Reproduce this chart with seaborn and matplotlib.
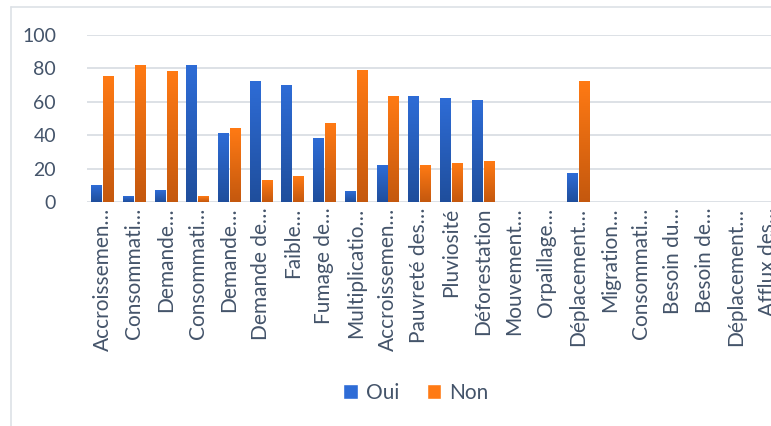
import numpy as np
import pandas as pd
import seaborn as sns
import matplotlib.pyplot as plt
from matplotlib.colors import LinearSegmentedColormap
from matplotlib.patches import Patch
from matplotlib.lines import Line2D

labels = ["Accroissemen…", "Consommati…", "Demande…", "Consommati…", "Demande…",
          "Demande de…", "Faible…", "Fumage de…", "Multiplicatio…", "Accroissemen…",
          "Pauvreté des…", "Pluviosité", "Déforestation", "Mouvement…", "Orpaillage…",
          "Déplacement…", "Migration…", "Consommati…", "Besoin du…", "Besoin de…",
          "Déplacement…", "Afflux des…"]
oui = [10, 3, 7, 82, 41, 72, 70, 38, 6, 22, 63, 62, 61, 0, 0, 17, 0, 0, 0, 0, 0, 0]
non = [75, 82, 78, 3, 44, 13, 15, 47, 79, 63, 22, 23, 24, 0, 0, 72, 0, 0, 0, 0, 0, 0]
groups = ["Oui", "Non"]

n = len(labels)
df = pd.DataFrame({
    "pos": list(range(n)) * 2,
    "rep": ["Oui"] * n + ["Non"] * n,
    "val": oui + non,
})

sns.set_theme(style="white")
plt.rcParams["font.family"] = ["Lato", "DejaVu Sans"]
txt = "#44546A"
blue_top, blue_bot = "#2E6CD6", "#1F4E9C"
orng_top, orng_bot = "#FF7A14", "#C4580E"

fig = plt.figure(figsize=(7.71, 4.26), dpi=100)
ax = fig.add_axes([86.6 / 771, 1 - 202 / 426, 697.4 / 771, 167 / 426])

sns.barplot(data=df, x="pos", y="val", hue="rep", hue_order=groups,
            palette=[blue_top, orng_top], width=0.75, gap=0.12,
            legend=False, ax=ax)

# excel-like vertical gradient on each bar
cmaps = [LinearSegmentedColormap.from_list("b", [blue_bot, blue_top]),
         LinearSegmentedColormap.from_list("o", [orng_bot, orng_top])]
grad = np.linspace(0, 1, 200).reshape(-1, 1)
for cont, cm in zip(ax.containers, cmaps):
    for bar in cont:
        h = bar.get_height()
        x0, w = bar.get_x(), bar.get_width()
        if h > 0:
            ax.imshow(grad, cmap=cm, extent=(x0, x0 + w, 0, h), origin="lower",
                      aspect="auto", zorder=2)
        bar.set_visible(False)

ax.set_xlim(-0.5, n - 0.5)
ax.set_ylim(0, 100)
ax.set_yticks(range(0, 101, 20))
ax.set_xticks(range(n))
ax.set_xticklabels(labels, rotation=90)
ax.set_xlabel("")
ax.set_ylabel("")
ax.yaxis.grid(True, color="#DDE1E6", lw=1.4, zorder=0)
ax.set_axisbelow(True)
ax.tick_params(axis="both", length=0, labelcolor=txt)
ax.tick_params(axis="y", pad=22, labelsize=14)
ax.tick_params(axis="x", pad=4, labelsize=15)
sns.despine(ax=ax, left=True, bottom=True)

# chart border (left and top visible)
fig.add_artist(Line2D([10.5 / 771] * 2, [0, 1 - 6.5 / 426], transform=fig.transFigure,
                      color="#DDE1E6", lw=1.2))
fig.add_artist(Line2D([10.5 / 771, 1], [1 - 6.5 / 426] * 2, transform=fig.transFigure,
                      color="#DDE1E6", lw=1.2))

handles = [Patch(facecolor=blue_top), Patch(facecolor=orng_top)]
fig.legend(handles, groups, loc="center", bbox_to_anchor=(416 / 771, 1 - 393 / 426),
           ncol=2, frameon=False, fontsize=15, handlelength=0.7, handleheight=0.7,
           handletextpad=0.4, columnspacing=1.3, labelcolor=txt)

fig.savefig("out.png", dpi=100)
